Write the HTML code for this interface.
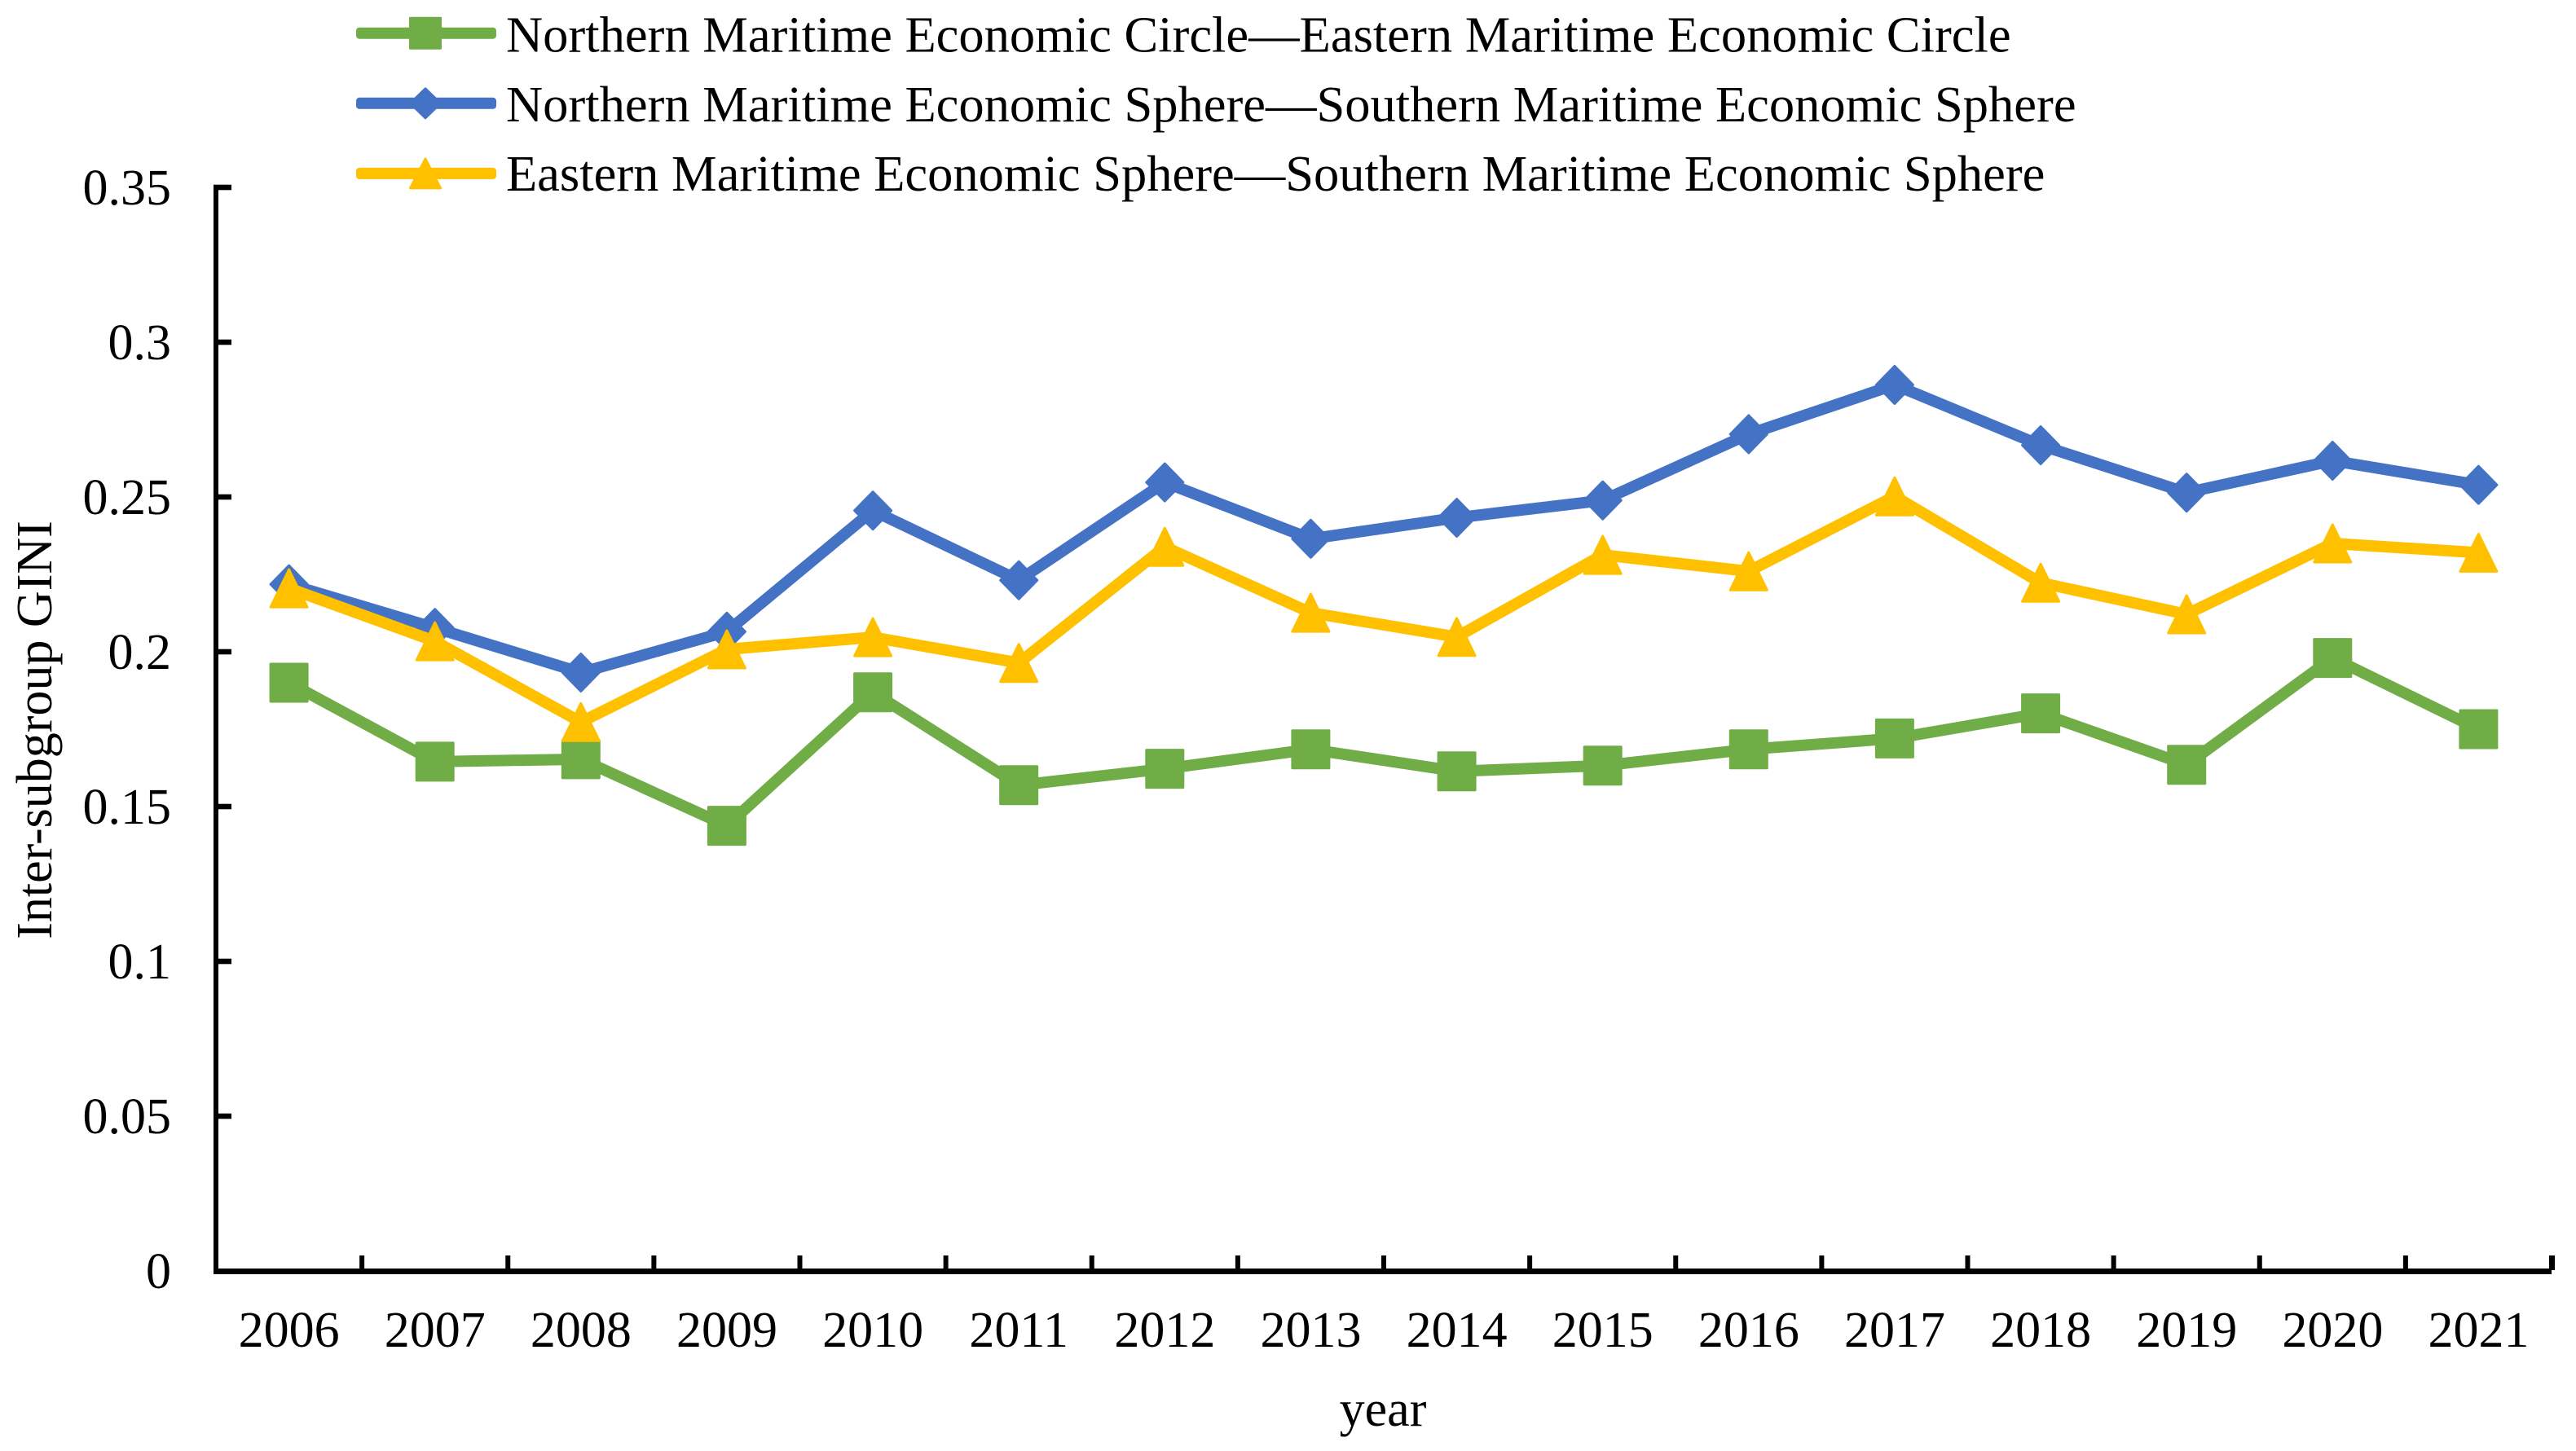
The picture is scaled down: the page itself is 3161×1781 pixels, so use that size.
<!DOCTYPE html>
<html lang="en">
<head>
<meta charset="utf-8">
<title>Inter-subgroup GINI</title>
<style>
html,body{margin:0;padding:0;background:#fff;}
svg{display:block;}
text{font-family:"Liberation Serif","Times New Roman",serif;fill:#000;}
</style>
</head>
<body>
<svg id="chart" xmlns="http://www.w3.org/2000/svg" width="3161" height="1781" viewBox="0 0 3161 1781">
  <rect x="0" y="0" width="3161" height="1781" fill="#ffffff"/>
  <g id="axes"></g>
  <g id="series"></g>
  <g id="legend"></g>
  <text transform="translate(63,896) rotate(-90)" text-anchor="middle" font-size="62">Inter-subgroup GINI</text>
  <text x="1697" y="1750" text-anchor="middle" font-size="62">year</text>
</svg>
<script>
const categories = ['2006','2007','2008','2009','2010','2011','2012','2013','2014','2015','2016','2017','2018','2019','2020','2021'];
const yTickValues = [0,0.05,0.1,0.15,0.2,0.25,0.3,0.35];
const yTickLabels = ['0','0.05','0.1','0.15','0.2','0.25','0.3','0.35'];
const northEast = [0.1900,0.1645,0.1653,0.1438,0.1869,0.1569,0.1622,0.1685,0.1614,0.1632,0.1685,0.1720,0.1801,0.1635,0.1980,0.1750];
const northSouth = [0.2218,0.2077,0.1933,0.2065,0.2456,0.2231,0.2547,0.2365,0.2433,0.2489,0.2703,0.2862,0.2667,0.2514,0.2617,0.2539];
const eastSouth = [0.2205,0.2034,0.1773,0.2008,0.2047,0.1964,0.2339,0.2126,0.2048,0.2313,0.2260,0.2502,0.2223,0.2121,0.2350,0.2320];
const legendNorthEast = 'Northern Maritime Economic Circle—Eastern Maritime Economic Circle';
const legendNorthSouth = 'Northern Maritime Economic Sphere—Southern Maritime Economic Sphere';
const legendEastSouth = 'Eastern Maritime Economic Sphere—Southern Maritime Economic Sphere';

const NS = 'http://www.w3.org/2000/svg';
const plotLeft = 265, plotRight = 3131, plotBottom = 1560, plotTop = 230, yMax = 0.35;
const bandWidth = (plotRight - plotLeft) / categories.length;
function xBand(i){ return plotLeft + bandWidth * (i + 0.5); }
function xEdge(i){ return plotLeft + bandWidth * i; }
function yScale(v){ return plotBottom - (v / yMax) * (plotBottom - plotTop); }

function make(tag, attrs, parent){
  const el = document.createElementNS(NS, tag);
  for (const k in attrs) el.setAttribute(k, attrs[k]);
  parent.appendChild(el);
  return el;
}

function drawMarker(kind, cx, cy, w, h, color, parent){
  const s = 3;
  const hw = w / 2 - s / 2, hh = h / 2 - s / 2;
  let pts;
  if (kind === 'square') {
    pts = [[cx-hw,cy-hh],[cx+hw,cy-hh],[cx+hw,cy+hh],[cx-hw,cy+hh]];
  } else if (kind === 'diamond') {
    pts = [[cx,cy-hh],[cx+hw,cy],[cx,cy+hh],[cx-hw,cy]];
  } else {
    pts = [[cx,cy-hh],[cx+hw,cy+hh],[cx-hw,cy+hh]];
  }
  return make('polygon', {
    points: pts.map(p => p[0].toFixed(1) + ',' + p[1].toFixed(1)).join(' '),
    fill: color, stroke: color, 'stroke-width': s, 'stroke-linejoin': 'round'
  }, parent);
}

const axes = document.getElementById('axes');
const yAxisLine = make('rect', {x: 262, y: 227, width: 6, height: 1337, fill: '#000'}, axes);


const xAxisLine = make('rect', {x: 263, y: 1557, width: 2868, height: 7, fill: '#000'}, axes);



yTickValues.forEach(function(v, i){
  const y = yScale(v);
  if (v > 0) {
    const tick = make('rect', {x: 262, y: y - 3.3, width: 22, height: 6.6, fill: '#000'}, axes);
    
    
  }
  const label = make('text', {x: 210, y: y + 21, 'text-anchor': 'end', 'font-size': 62}, axes);
  label.textContent = yTickLabels[i];
  
  
});

categories.forEach(function(c, i){
  const tick = make('rect', {x: xEdge(i + 1) - 3, y: 1541, width: i === categories.length - 1 ? 7 : 6, height: 18, fill: '#000'}, axes);
  
  
  const label = make('text', {x: xBand(i), y: 1653, 'text-anchor': 'middle', 'font-size': 62}, axes);
  label.textContent = c;
  
  
});

const seriesGroup = document.getElementById('series');
function drawSeries(values, color, kind, name){
  const g = make('g', {}, seriesGroup);
  
  
  const line = make('polyline', {
    points: values.map((v, i) => xBand(i).toFixed(1) + ',' + yScale(v).toFixed(1)).join(' '),
    fill: 'none', stroke: color, 'stroke-width': 14, 'stroke-linejoin': 'round', 'stroke-linecap': 'round'
  }, g);
  
  
  values.forEach(function(v, i){
    const m = drawMarker(kind, xBand(i), yScale(v), 48, 49, color, g);
    
    
  });
}
drawSeries(northEast, '#70AD47', 'square', 'series-north-east');
drawSeries(northSouth, '#4472C4', 'diamond', 'series-north-south');
drawSeries(eastSouth, '#FFC000', 'triangle', 'series-east-south');

const legend = document.getElementById('legend');
function drawLegendEntry(label, color, kind, yCenter, baseline, mw, mh){
  const g = make('g', {}, legend);
  
  
  const sw = make('rect', {x: 437, y: yCenter - 7, width: 172, height: 14, rx: 4, fill: color}, g);
  
  
  const m = drawMarker(kind, 522, yCenter, mw, mh, color, g);
  
  
  const t = make('text', {x: 621, y: baseline, 'font-size': 62.5}, g);
  t.textContent = label;
  
  
}
drawLegendEntry(legendNorthEast, '#70AD47', 'square', 40.7, 63.5, 40, 40);
drawLegendEntry(legendNorthSouth, '#4472C4', 'diamond', 126.8, 149, 40, 39);
drawLegendEntry(legendEastSouth, '#FFC000', 'triangle', 212.9, 234, 40, 39);
</script>
</body>
</html>
